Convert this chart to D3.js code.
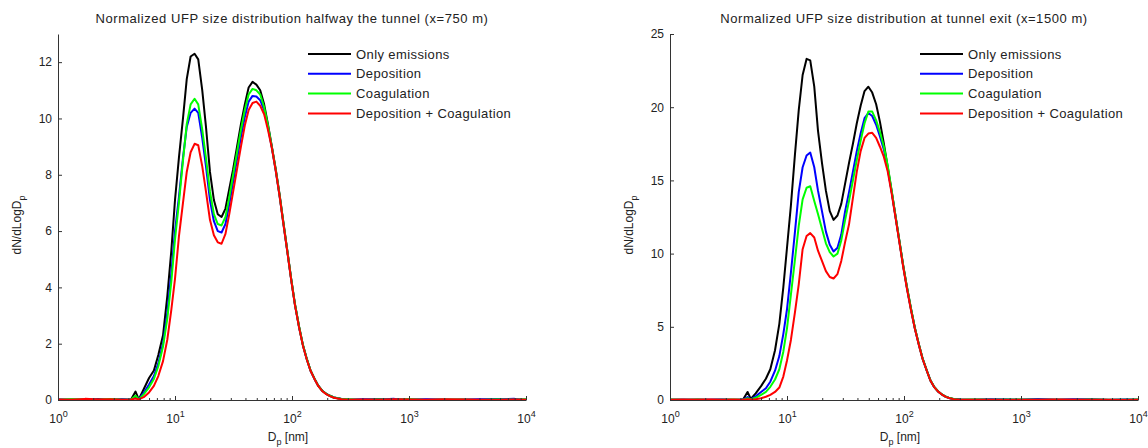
<!DOCTYPE html>
<html>
<head>
<meta charset="utf-8">
<script src="https://cdn.jsdelivr.net/npm/d3@7"></script>
<style>
  body { margin: 0; background: #fff; }
  svg { font-family: "Liberation Sans", Arial, sans-serif; }
  .axis path, .axis line { stroke: #333; }
  .axis text { fill: #222; }
  .curve { fill: none; stroke-width: 2; stroke-linejoin: round; }
</style>
</head>
<body>
<div id="chart"></div>
<script>
// particle diameters [nm]
var dp = [
  1, 1.3, 1.7, 2.2, 2.8, 3.5, 4.2, 4.6, 4.9, 5.4,
  6.0, 6.6, 7.2, 7.9, 8.6, 9.3, 10.0, 10.8, 11.7, 12.6,
  13.6, 14.7, 15.8, 17.1, 18.4, 19.9, 21.5, 23.2, 25.0, 27.0,
  29.1, 31.4, 33.9, 36.6, 39.5, 42.6, 46.0, 49.6, 53.5, 57.8,
  62.3, 67.3, 72.6, 78.3, 84.5, 91.2, 98.4, 106, 115, 124,
  134, 144, 156, 168, 181, 196, 211, 228, 246, 265,
  300, 400, 550, 750, 1000, 1400, 2000, 2800, 4000, 5600, 8000, 10000
];

var seriesNames = ["Only emissions", "Deposition", "Coagulation", "Deposition + Coagulation"];
var seriesColors = ["#000000", "#0000ff", "#00ff00", "#ff0000"];

// halfway the tunnel (x=750 m)
var halfOnly = [
  0.00, 0.02, 0.00, 0.03, 0.01, 0.02, 0.01, 0.30, 0.02, 0.38,
  0.78, 1.05, 1.60, 2.30, 3.70, 5.30, 7.10, 8.60, 10.0, 11.4,
  12.2, 12.3, 12.1, 11.0, 9.70, 8.10, 7.10, 6.60, 6.50, 6.80,
  7.50, 8.20, 9.00, 9.80, 10.5, 11.1, 11.3, 11.2, 11.0, 10.5,
  9.80, 9.00, 8.20, 7.30, 6.30, 5.30, 4.30, 3.40, 2.60, 1.95,
  1.45, 1.05, 0.75, 0.50, 0.33, 0.22, 0.15, 0.09, 0.06, 0.04,
  0.02, 0.01, 0.03, 0.00, 0.02, 0.01, 0.00, 0.02, 0.01, 0.03, 0.00, 0.01
];
var halfDep = [
  0.03, 0.00, 0.02, 0.01, 0.00, 0.03, 0.01, 0.12, 0.02, 0.25,
  0.55, 0.85, 1.30, 2.00, 3.10, 4.50, 6.00, 7.20, 8.60, 9.70,
  10.2, 10.35, 10.2, 9.30, 8.30, 7.10, 6.35, 6.00, 5.95, 6.25,
  6.95, 7.75, 8.55, 9.35, 10.05, 10.6, 10.8, 10.78, 10.65, 10.3,
  9.70, 8.95, 8.15, 7.25, 6.25, 5.28, 4.28, 3.38, 2.58, 1.94,
  1.44, 1.04, 0.74, 0.50, 0.33, 0.22, 0.15, 0.09, 0.06, 0.04,
  0.01, 0.03, 0.02, 0.04, 0.01, 0.03, 0.02, 0.00, 0.03, 0.02, 0.04, 0.01
];
var halfCoag = [
  0.01, 0.03, 0.02, 0.00, 0.04, 0.01, 0.02, 0.15, 0.02, 0.20,
  0.45, 0.75, 1.20, 1.90, 2.90, 4.20, 5.70, 7.00, 8.50, 9.80,
  10.5, 10.7, 10.5, 9.60, 8.60, 7.40, 6.60, 6.25, 6.20, 6.50,
  7.20, 8.00, 8.80, 9.60, 10.3, 10.85, 11.05, 11.0, 10.85, 10.4,
  9.75, 8.98, 8.18, 7.28, 6.28, 5.30, 4.30, 3.40, 2.60, 1.95,
  1.45, 1.05, 0.75, 0.50, 0.33, 0.22, 0.15, 0.09, 0.06, 0.04,
  0.03, 0.00, 0.02, 0.01, 0.03, 0.00, 0.02, 0.01, 0.00, 0.02, 0.01, 0.03
];
var halfBoth = [
  0.02, 0.01, 0.04, 0.02, 0.03, 0.01, 0.02, 0.05, 0.02, 0.10,
  0.27, 0.50, 0.85, 1.38, 2.15, 3.20, 4.30, 5.80, 7.00, 8.10,
  8.80, 9.10, 9.05, 8.30, 7.40, 6.40, 5.85, 5.60, 5.55, 5.90,
  6.60, 7.40, 8.20, 9.00, 9.75, 10.3, 10.55, 10.6, 10.45, 10.15,
  9.60, 8.95, 8.15, 7.25, 6.25, 5.27, 4.27, 3.37, 2.57, 1.93,
  1.43, 1.04, 0.74, 0.49, 0.32, 0.21, 0.14, 0.08, 0.05, 0.03,
  0.01, 0.02, 0.01, 0.03, 0.02, 0.01, 0.03, 0.02, 0.01, 0.00, 0.02, 0.01
];

// tunnel exit (x=1500 m)
var exitOnly = [
  0.02, 0.00, 0.03, 0.01, 0.02, 0.00, 0.02, 0.55, 0.08, 0.45,
  0.95, 1.45, 2.10, 3.40, 5.20, 7.70, 10.4, 13.3, 16.8, 19.8,
  22.2, 23.3, 23.2, 21.4, 18.4, 16.2, 14.3, 12.9, 12.3, 12.6,
  13.4, 14.8, 16.2, 17.5, 18.9, 20.1, 21.1, 21.4, 21.0, 20.2,
  19.0, 17.5, 15.9, 14.3, 12.6, 10.9, 9.20, 7.70, 6.20, 4.90,
  3.80, 2.85, 2.05, 1.35, 0.90, 0.58, 0.38, 0.22, 0.13, 0.07,
  0.03, 0.01, 0.02, 0.03, 0.00, 0.02, 0.01, 0.03, 0.02, 0.00, 0.01, 0.02
];
var exitDep = [
  0.01, 0.03, 0.00, 0.02, 0.04, 0.01, 0.03, 0.20, 0.05, 0.25,
  0.55, 0.80, 1.25, 2.00, 3.00, 4.50, 6.20, 8.70, 11.5, 14.2,
  15.9, 16.7, 16.9, 15.9, 14.3, 12.9, 11.5, 10.6, 10.15, 10.4,
  11.3, 12.9, 14.2, 15.6, 17.0, 18.2, 19.25, 19.6, 19.4, 18.8,
  18.0, 17.1, 15.8, 14.25, 12.55, 10.85, 9.15, 7.65, 6.15, 4.87,
  3.78, 2.83, 2.04, 1.34, 0.89, 0.57, 0.37, 0.21, 0.12, 0.06,
  0.04, 0.02, 0.05, 0.01, 0.03, 0.06, 0.02, 0.04, 0.05, 0.01, 0.03, 0.02
];
var exitCoag = [
  0.03, 0.01, 0.02, 0.00, 0.02, 0.03, 0.01, 0.12, 0.04, 0.15,
  0.35, 0.55, 0.90, 1.40, 2.10, 3.30, 4.90, 7.20, 9.60, 11.9,
  13.7, 14.5, 14.6, 13.6, 12.7, 11.7, 10.7, 10.1, 9.80, 10.0,
  10.9, 12.3, 13.6, 15.0, 16.4, 17.7, 18.9, 19.7, 19.7, 19.1,
  18.3, 17.3, 16.0, 14.35, 12.6, 10.9, 9.20, 7.70, 6.20, 4.90,
  3.80, 2.85, 2.05, 1.35, 0.90, 0.58, 0.38, 0.22, 0.13, 0.07,
  0.02, 0.03, 0.01, 0.02, 0.04, 0.01, 0.02, 0.00, 0.03, 0.02, 0.01, 0.03
];
var exitBoth = [
  0.02, 0.04, 0.01, 0.03, 0.02, 0.04, 0.02, 0.05, 0.03, 0.05,
  0.12, 0.22, 0.35, 0.55, 0.85, 1.60, 2.70, 4.10, 6.00, 7.90,
  10.3, 11.2, 11.4, 11.1, 10.2, 9.50, 8.80, 8.40, 8.30, 8.60,
  9.50, 10.8, 12.0, 13.8, 15.6, 17.0, 17.9, 18.2, 18.25, 17.9,
  17.3, 16.6, 15.6, 14.15, 12.5, 10.8, 9.10, 7.60, 6.10, 4.85,
  3.76, 2.82, 2.03, 1.33, 0.88, 0.57, 0.37, 0.21, 0.12, 0.06,
  0.01, 0.02, 0.01, 0.00, 0.02, 0.01, 0.03, 0.01, 0.02, 0.01, 0.00, 0.02
];

var xDecades = [1, 10, 100, 1000, 10000];
var halfTicks = [0, 2, 4, 6, 8, 10, 12];
var exitTicks = [0, 5, 10, 15, 20, 25];

function init() {
    var w = 1148;
    var h = 448;

    var svg = d3.select("#chart")
                .append("svg")
                .attr("width", w)
                .attr("height", h);

    drawPanel(svg, {
        left: 58, right: 526, top: 34, bottom: 400,
        ymax: 13, yticks: halfTicks,
        title: "Normalized UFP size distribution halfway the tunnel (x=750 m)",
        series: [halfOnly, halfDep, halfCoag, halfBoth]
    });

    drawPanel(svg, {
        left: 670, right: 1138, top: 34, bottom: 400,
        ymax: 25, yticks: exitTicks,
        title: "Normalized UFP size distribution at tunnel exit (x=1500 m)",
        series: [exitOnly, exitDep, exitCoag, exitBoth]
    });
}

function drawPanel(svg, p) {
    var xScale = d3.scaleLog()
                   .domain([1, 10000])
                   .range([p.left, p.right]);

    var yScale = d3.scaleLinear()
                   .domain([0, p.ymax])
                   .range([p.bottom, p.top]);

    // minor ticks 2..9 per decade
    var minor = [];
    xDecades.slice(0, -1).forEach(function(d) {
        for (var k = 2; k <= 9; k++) minor.push(d * k);
    });

    var line = d3.line()
                 .x(function(d) { return xScale(d[0]); })
                 .y(function(d) { return yScale(d[1]); });

    // curves
    p.series.forEach(function(vals, i) {
        svg.append("path")
           .datum(dp.map(function(d, j) { return [d, vals[j]]; }))
           .attr("class", "curve")
           .attr("stroke", seriesColors[i])
           .attr("d", line);
    });

    // x axis
    svg.append("g")
       .attr("class", "axis")
       .attr("transform", "translate(0," + p.bottom + ")")
       .call(d3.axisBottom(xScale).tickValues(minor).tickSize(-2).tickSizeOuter(0).tickFormat(""))
       .select(".domain").remove();

    var gx = svg.append("g")
       .attr("class", "axis")
       .attr("transform", "translate(0," + p.bottom + ")")
       .call(d3.axisBottom(xScale).tickValues(xDecades).tickSize(-4).tickSizeOuter(0).tickFormat(""));

    gx.selectAll(".tick").append("text")
      .attr("y", 23)
      .attr("text-anchor", "middle")
      .attr("font-size", 12)
      .attr("fill", "#222")
      .each(function(d) {
          var t = d3.select(this);
          t.append("tspan").text("10");
          t.append("tspan").attr("dy", -6).attr("font-size", 9).text(Math.round(Math.log10(d)));
      });

    // y axis
    svg.append("g")
       .attr("class", "axis")
       .attr("transform", "translate(" + p.left + ",0)")
       .call(d3.axisLeft(yScale).tickValues(p.yticks).tickSize(-4).tickSizeOuter(0).tickPadding(6))
       .selectAll("text").attr("font-size", 12);

    // title
    svg.append("text")
       .attr("x", (p.left + p.right) / 2)
       .attr("y", 23)
       .attr("text-anchor", "middle")
       .attr("font-size", 13)
       .attr("letter-spacing", 0.55)
       .attr("fill", "#222")
       .text(p.title);

    // x label
    var xl = svg.append("text")
       .attr("x", (p.left + p.right) / 2 - 4)
       .attr("y", 441)
       .attr("text-anchor", "middle")
       .attr("font-size", 12)
       .attr("fill", "#222");
    xl.append("tspan").text("D");
    xl.append("tspan").attr("dy", 4).attr("font-size", 9).text("p");
    xl.append("tspan").attr("dy", -4).text(" [nm]");

    // y label
    var yl = svg.append("text")
       .attr("transform", "translate(" + (p.left - 37) + "," + ((p.top + p.bottom) / 2 + 8) + ") rotate(-90)")
       .attr("text-anchor", "middle")
       .attr("font-size", 12)
       .attr("fill", "#222");
    yl.append("tspan").text("dN/dLogD");
    yl.append("tspan").attr("dy", 4).attr("font-size", 9).text("p");

    // legend
    var lg = svg.append("g")
       .attr("transform", "translate(" + (p.left + 250) + ",54)");
    seriesNames.forEach(function(name, i) {
        var row = lg.append("g").attr("transform", "translate(0," + (i * 19.8) + ")");
        row.append("line")
           .attr("x1", 0).attr("x2", 43)
           .attr("stroke", seriesColors[i])
           .attr("stroke-width", 2);
        row.append("text")
           .attr("x", 48)
           .attr("y", 4.5)
           .attr("font-size", 13)
           .attr("letter-spacing", 0.4)
           .attr("fill", "#222")
           .text(name);
    });
}

window.onload = init;
</script>
</body>
</html>
